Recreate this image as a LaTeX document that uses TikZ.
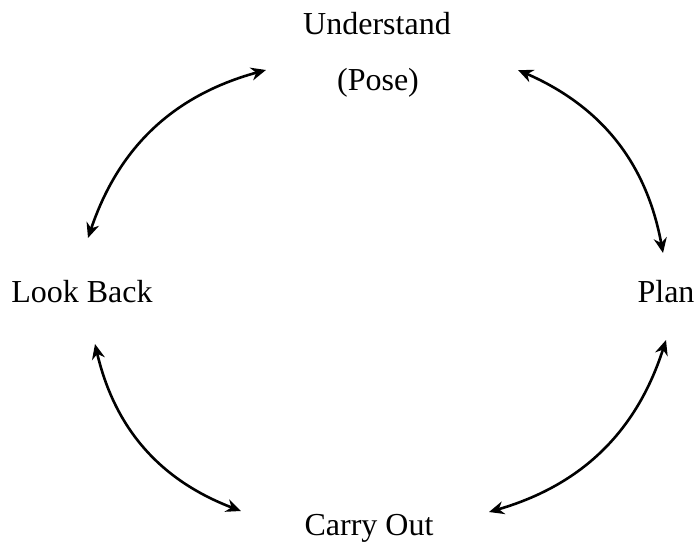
\documentclass[tikz,border=0pt]{standalone}
\usepackage{fontspec}
\setmainfont{Liberation Serif}
\usetikzlibrary{arrows.meta}
\begin{document}
\begin{tikzpicture}[x=1pt,y=-1pt,
  lbl/.style={anchor=base,inner sep=0pt,font=\fontsize{32}{38}\selectfont},
  conn/.style={line width=2.6pt,{Stealth[length=15pt,width=13pt]}-{Stealth[length=15pt,width=13pt]}}]
\useasboundingbox (0,0) rectangle (698,543);
\node[lbl] (u) at (377,35) {Understand};
\node[lbl] (p) at (378,90) {(Pose)};
\node[lbl] (lb) at (82,302) {Look Back};
\node[lbl] (pl) at (666,302) {Plan};
\node[lbl] (co) at (369,535) {Carry Out};
\coordinate (a1) at (266,70);
\coordinate (a2) at (88,238);
\coordinate (b1) at (518,70);
\coordinate (b2) at (663,253);
\coordinate (c1) at (95,344);
\coordinate (c2) at (241,511);
\coordinate (d1) at (666,340);
\coordinate (d2) at (489,512);
\draw[conn] (a1) to[bend right=28] (a2);
\draw[conn] (b1) to[bend left=28] (b2);
\draw[conn] (c1) to[bend right=28] (c2);
\draw[conn] (d1) to[bend left=28] (d2);
\end{tikzpicture}
\end{document}
